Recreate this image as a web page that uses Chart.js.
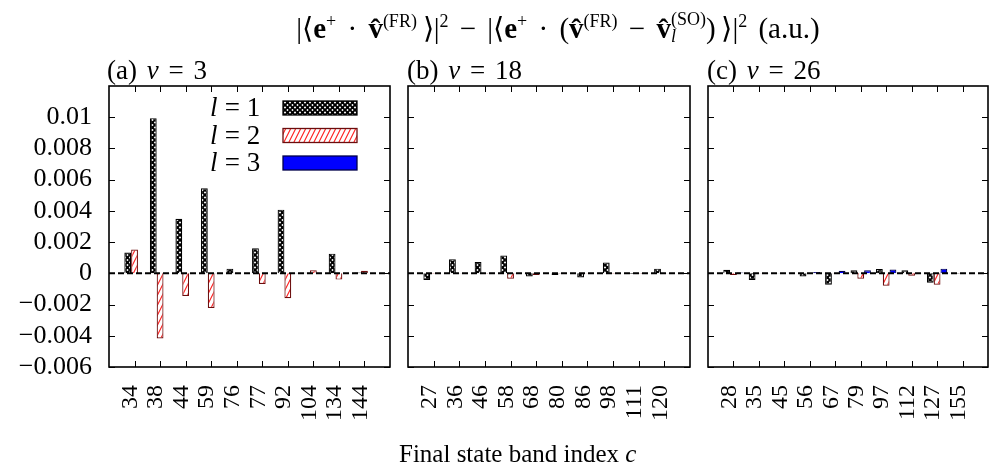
<!DOCTYPE html>
<html>
<head>
<meta charset="utf-8">
<script src="https://cdn.jsdelivr.net/npm/chart.js@4.4.1/dist/chart.umd.min.js"></script>
<style>
  body { margin: 0; background: #fff; font-family: "Liberation Serif", serif; color: #000; }
  #wrap { position: relative; width: 989px; height: 472px; overflow: hidden; }
  .cv { position: absolute; top: 0; height: 472px; }
  .txt { position: absolute; font-size: 27px; white-space: nowrap; }
  .pl { word-spacing: 3px; }
  #title { left: 558px; top: 11px; transform: translateX(-50%); font-size: 29px; word-spacing: 4px; }
  #title sup { font-size: 18px; }
  .ss { display: inline-block; vertical-align: middle; line-height: 17px; font-size: 18px; text-align: left; margin-top: -6px; }
</style>
</head>
<body>
<div id="wrap">
  <div class="cv" style="left:0;width:400px"><canvas id="chartA"></canvas></div>
  <div class="cv" style="left:400px;width:300px"><canvas id="chartB"></canvas></div>
  <div class="cv" style="left:700px;width:289px"><canvas id="chartC"></canvas></div>

  <div class="txt" id="title">|&#10216;<b>e</b><sup>+</sup> &middot; <b>v&#770;</b><sup>(FR)</sup>&#8201;&#10217;|<sup>2</sup> &minus; |&#10216;<b>e</b><sup>+</sup> &middot; (<b>v&#770;</b><sup>(FR)</sup> &minus; <b>v&#770;</b><span class="ss">(SO)<br><i>l</i></span>)&#8201;&#10217;|<sup>2</sup> (a.u.)</div>
  <div class="txt pl" style="left:107px;top:55px">(a) <i>v</i> = 3</div>
  <div class="txt pl" style="left:407px;top:55px">(b) <i>v</i> = 18</div>
  <div class="txt pl" style="left:707px;top:55px">(c) <i>v</i> = 26</div>
  <div class="txt" style="left:399px;top:440px;font-size:25px">Final state band index <i>c</i></div>
</div>

<script>
// band indices per panel
var labelsA = ['34', '38', '44', '59', '76', '77', '92', '104', '134', '144'];
var labelsB = ['27', '36', '46', '58', '68', '80', '86', '98', '111', '120'];
var labelsC = ['28', '35', '45', '56', '67', '79', '97', '112', '127', '155'];

// (a) v = 3
var a_l1 = [0.00133, 0.00994, 0.0035, 0.00545, 0.0003, 0.0016, 0.00408, 0.00003, 0.00126, 0.00005];
var a_l2 = [0.00152, -0.00417, -0.00145, -0.00222, 0.00002, -0.00068, -0.0016, 0.0002, -0.0004, 0.00017];
var a_l3 = [0.00002, 0.00002, 0.00002, 0.00002, 0.00001, 0.00001, 0.00002, 0.00001, 0.00001, 0.00001];
// (b) v = 18
var b_l1 = [-0.00043, 0.0009, 0.00072, 0.00115, -0.0002, -0.0001, -0.00026, 0.0007, -0.00005, 0.0003];
var b_l2 = [-0.00003, 0.00002, -0.00003, -0.00035, -0.0001, -0.00003, 0.00002, -0.00003, -0.00003, 0.00002];
var b_l3 = [0.00001, 0.00001, 0.00003, 0.00002, 0.00001, 0.00001, 0.00001, 0.00001, 0.00001, 0.00002];
// (c) v = 26
var c_l1 = [0.00023, -0.00043, 0.00002, -0.0002, -0.00073, 0.0002, 0.00028, 0.0002, -0.0006, -0.00003];
var c_l2 = [-0.0001, 0.00002, 0.00001, 0.00002, 0.00002, -0.00034, -0.00079, -0.00015, -0.00073, -0.00003];
var c_l3 = [0.00005, 0.00002, 0.00003, 0.00008, 0.00017, 0.0002, 0.00024, 0.00002, 0.0003, 0.00001];

var yTicks = [-0.006, -0.004, -0.002, 0, 0.002, 0.004, 0.006, 0.008, 0.01];
var yMin = -0.006, yMax = 0.012;
var legendNames = ['1', '2', '3'];

function makePattern(w, h, draw) {
    var c = document.createElement('canvas');
    c.width = w; c.height = h;
    var g = c.getContext('2d');
    g.fillStyle = '#fff';
    g.fillRect(0, 0, w, h);
    draw(g);
    return g.createPattern(c, 'repeat');
}

var crossPat = makePattern(5, 5, function (g) {
    g.strokeStyle = '#000';
    g.lineWidth = 1.9;
    g.beginPath();
    g.moveTo(-1, -1); g.lineTo(6, 6);
    g.moveTo(-1, 6); g.lineTo(6, -1);
    g.stroke();
});
var hatchPat = makePattern(5, 10, function (g) {
    g.strokeStyle = '#ff2020';
    g.lineWidth = 1.1;
    g.beginPath();
    g.moveTo(-0.5, 11); g.lineTo(5.5, -1);
    g.moveTo(-5.5, 11); g.lineTo(0.5, -1);
    g.moveTo(4.5, 11); g.lineTo(10.5, -1);
    g.stroke();
});

var fills = [crossPat, hatchPat, '#0000ff'];
var edges = ['#000000', '#6b0d0d', '#00004a'];

function pts(arr) {
    return arr.map(function (v, i) { return { x: i + 1, y: v }; });
}

function fmtY(v) {
    if (Math.abs(v) < 1e-9) return '0';
    var s = Math.abs(v).toFixed(3).replace(/0+$/, '');
    return (v < 0 ? '\u2212' : '') + s;
}

// frame + inward ticks on all four sides, gnuplot style
var framePlugin = {
    id: 'frame',
    afterDraw: function (chart) {
        var ctx = chart.ctx, a = chart.chartArea;
        var xs = chart.scales.x, ys = chart.scales.y;
        ctx.save();
        ctx.strokeStyle = '#000';
        ctx.lineWidth = 1;
        ctx.beginPath();
        for (var i = 1; i <= 10; i++) {
            var px = Math.round(xs.getPixelForValue(i)) + 0.5;
            ctx.moveTo(px, a.bottom); ctx.lineTo(px, a.bottom - 6);
            ctx.moveTo(px, a.top); ctx.lineTo(px, a.top + 6);
        }
        yTicks.forEach(function (t) {
            var py = Math.round(ys.getPixelForValue(t)) + 0.5;
            ctx.moveTo(a.left, py); ctx.lineTo(a.left + 6, py);
            ctx.moveTo(a.right, py); ctx.lineTo(a.right - 6, py);
        });
        ctx.stroke();
        ctx.lineWidth = 1.6;
        ctx.strokeRect(a.left, a.top, a.right - a.left, a.bottom - a.top);
        ctx.restore();
    }
};

// key drawn inside panel (a), top right
var keyPlugin = {
    id: 'key',
    afterDraw: function (chart, args, opts) {
        if (!opts.show) return;
        var ctx = chart.ctx, a = chart.chartArea;
        var right = a.right - 33, w = 74, h = 14;
        ctx.save();
        for (var i = 0; i < 3; i++) {
            var cy = a.top + 22 + i * 27.5;
            ctx.fillStyle = fills[i];
            ctx.fillRect(right - w, cy - h / 2, w, h);
            ctx.strokeStyle = edges[i];
            ctx.lineWidth = 1.3;
            ctx.strokeRect(right - w, cy - h / 2, w, h);

            ctx.fillStyle = '#000';
            ctx.textBaseline = 'middle';
            ctx.textAlign = 'left';
            var tx = right - w - 73;
            ctx.font = 'italic 27px "Liberation Serif"';
            ctx.fillText('l', tx, cy + 1);
            ctx.font = '27px "Liberation Serif"';
            ctx.fillText(' = ' + legendNames[i], tx + 8, cy + 1);
        }
        ctx.restore();
    }
};

function makeChart(id, labels, l1, l2, l3, opt) {
    var ctx = document.getElementById(id);
    var sets = [l1, l2, l3].map(function (arr, k) {
        return {
            type: 'bar',
            label: 'l = ' + legendNames[k],
            data: pts(arr),
            backgroundColor: fills[k],
            borderColor: edges[k],
            borderWidth: 1.2,
            categoryPercentage: 0.8,
            barPercentage: 1.0,
            order: 2
        };
    });
    sets.push({
        type: 'line',
        label: 'zero',
        data: [{ x: 0, y: 0 }, { x: 11, y: 0 }],
        borderColor: '#000',
        borderWidth: 2,
        borderDash: [6, 3],
        pointRadius: 0,
        order: 0
    });

    return new Chart(ctx, {
        type: 'bar',
        data: { datasets: sets },
        options: {
            responsive: false,
            animation: false,
            events: [],
            layout: { padding: { top: 86, left: opt.padLeft, right: opt.padRight, bottom: 0 } },
            plugins: {
                legend: { display: false },
                tooltip: { enabled: false },
                key: { show: opt.key }
            },
            scales: {
                x: {
                    type: 'linear',
                    min: 0,
                    max: 11,
                    offset: false,
                    grid: { display: false, drawTicks: false, offset: false },
                    border: { display: false },
                    afterBuildTicks: function (scale) {
                        scale.ticks = labels.map(function (l, i) { return { value: i + 1 }; });
                    },
                    afterFit: function (scale) {
                        scale.height = 105;
                        scale.paddingLeft = 0;
                        scale.paddingRight = 0;
                    },
                    ticks: {
                        autoSkip: false,
                        minRotation: 90,
                        maxRotation: 90,
                        padding: 18,
                        labelOffset: -4,
                        color: '#000',
                        font: { family: 'Liberation Serif', size: 24 },
                        callback: function (v) { return labels[v - 1]; }
                    }
                },
                y: {
                    min: yMin,
                    max: yMax,
                    grid: { display: false, drawTicks: false },
                    border: { display: false },
                    afterBuildTicks: function (scale) {
                        scale.ticks = yTicks.map(function (t) { return { value: t }; });
                    },
                    afterFit: function (scale) {
                        scale.width = opt.yWidth;
                        scale.paddingTop = 0;
                        scale.paddingBottom = 0;
                    },
                    ticks: {
                        display: opt.yLabels,
                        padding: 17,
                        color: '#000',
                        font: { family: 'Liberation Serif', size: 26 },
                        callback: function (v) { return fmtY(v); }
                    }
                }
            }
        },
        plugins: [framePlugin, keyPlugin]
    });
}

document.getElementById('chartA').width = 400;
document.getElementById('chartA').height = 472;
document.getElementById('chartB').width = 300;
document.getElementById('chartB').height = 472;
document.getElementById('chartC').width = 289;
document.getElementById('chartC').height = 472;

makeChart('chartA', labelsA, a_l1, a_l2, a_l3, { padLeft: 0, padRight: 10, yWidth: 109, yLabels: true, key: true });
makeChart('chartB', labelsB, b_l1, b_l2, b_l3, { padLeft: 8, padRight: 10, yWidth: 0, yLabels: false, key: false });
makeChart('chartC', labelsC, c_l1, c_l2, c_l3, { padLeft: 8, padRight: 1, yWidth: 0, yLabels: false, key: false });
</script>
</body>
</html>
